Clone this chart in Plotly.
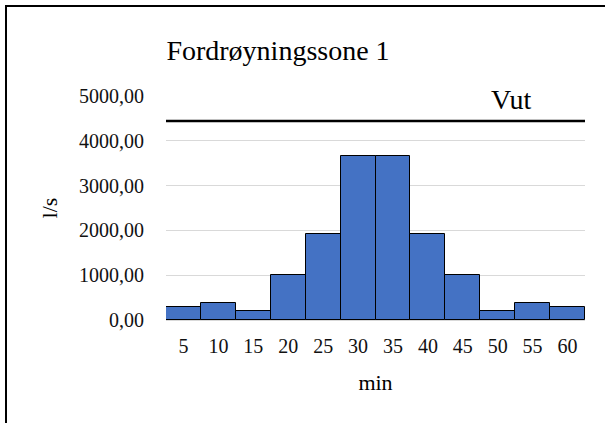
import plotly.graph_objects as go

minutes = ["5", "10", "15", "20", "25", "30", "35", "40", "45", "50", "55", "60"]
flow = [280, 390, 210, 1010, 1930, 3660, 3660, 1930, 1010, 210, 390, 280]
vut = 4440

W, H = 605, 423
L, R, T, B = 166, 20, 96, 103
font = "Liberation Serif"

fig = go.Figure()
fig.add_trace(go.Bar(x=minutes, y=flow, marker=dict(color="#4472C4", line=dict(color="black", width=1))))

fig.add_hline(y=vut, line=dict(color="black", width=2.5))
fig.add_annotation(x=0.83, xref="paper", y=vut, yref="y", text="Vut", showarrow=False,
                   yanchor="bottom", yshift=4, xshift=20,
                   font=dict(family=font, size=28, color="black"))

# frame around the chart (pixels -> paper)
pw, ph = W - L - R, H - T - B
fig.add_shape(type="rect", xref="paper", yref="paper",
              x0=(6 - L) / pw, x1=(W + 10 - L) / pw,
              y0=-(H + 10 - (H - B)) / ph, y1=((H - B) - 6) / ph,
              line=dict(color="black", width=2))

fig.update_layout(
    width=W, height=H,
    margin=dict(l=L, r=R, t=T, b=B),
    paper_bgcolor="white", plot_bgcolor="white",
    bargap=0, showlegend=False,
    separators=",.",
    font=dict(family=font, size=20, color="#111"),
    title=dict(text="Fordrøyningssone 1", x=278 / W, xanchor="center", xref="container",
               y=1 - 50 / H, yanchor="middle", yref="container",
               font=dict(family=font, size=28, color="black")),
)
fig.update_yaxes(range=[0, 5000], dtick=1000, tickformat=".2f", showgrid=True, gridcolor="#D9D9D9",
                 zeroline=True, zerolinecolor="#D9D9D9", zerolinewidth=2, ticklabelstandoff=21,
                 title=dict(text="l/s", standoff=15, font=dict(size=22, color="black")))
fig.update_xaxes(showgrid=False, ticklabelstandoff=12,
                 title=dict(text="min", standoff=18, font=dict(size=22, color="black")))

# drop the page's default body margin so the chart sits at the window's top-left
fig.write_html("out.html", config={"displayModeBar": False},
               post_script="document.body.style.margin='0';")
